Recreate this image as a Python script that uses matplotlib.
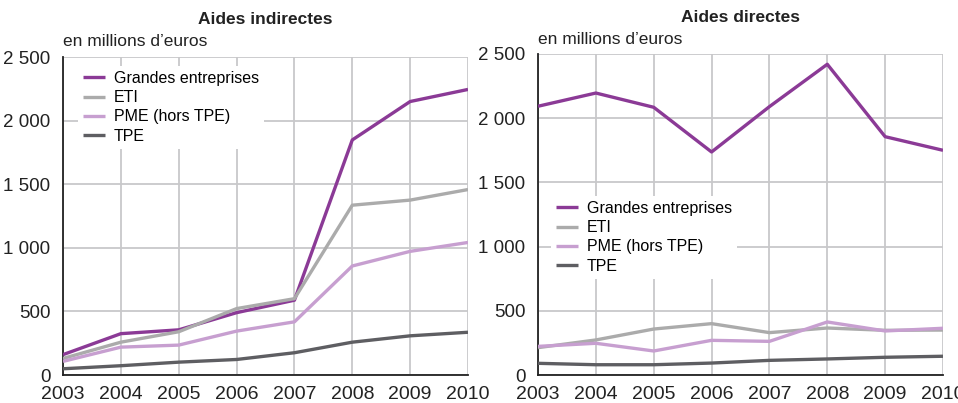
import matplotlib
matplotlib.use("Agg")
import matplotlib.pyplot as plt
from matplotlib.ticker import FuncFormatter

plt.rcParams['font.family'] = ['Liberation Sans Narrow', 'DejaVu Sans Condensed', 'Liberation Sans', 'DejaVu Sans']

years = [2003, 2004, 2005, 2006, 2007, 2008, 2009, 2010]
series_names = ["Grandes entreprises", "ETI", "PME (hors TPE)", "TPE"]

ind_ge = [160, 325, 355, 490, 588, 1848, 2150, 2245]
ind_eti = [130, 258, 340, 522, 600, 1335, 1375, 1458]
ind_pme = [107, 219, 235, 345, 418, 857, 972, 1042]
ind_tpe = [49, 73, 101, 122, 175, 258, 308, 336]

dir_ge = [2093, 2196, 2085, 1737, 2090, 2420, 1856, 1750]
dir_eti = [213, 273, 358, 400, 330, 366, 348, 350]
dir_pme = [223, 247, 187, 270, 262, 413, 343, 364]
dir_tpe = [91, 80, 80, 93, 114, 125, 138, 146]

colors = ["#8B3A96", "#ABABAB", "#C79FD0", "#5E5E62"]
yticks = [0, 500, 1000, 1500, 2000, 2500]

W, H = 958, 403
fig = plt.figure(figsize=(W/100, H/100), dpi=100)
ax1 = fig.add_axes([63/W, 1-375/H, 405/W, 318/H])
ax2 = fig.add_axes([538/W, 1-375/H, 405/W, 321/H])

fmt = FuncFormatter(lambda v, p: f"{int(v):,}".replace(",", " "))

def style(ax, data, title, title_y, sub_y, leg_xy):
    for vals, name, c in zip(data, series_names, colors):
        ax.plot(years, vals, color=c, lw=2.4, label=name, solid_capstyle='butt', zorder=3)
    ax.set_xlim(2003, 2010)
    ax.set_ylim(0, 2500)
    ax.set_xticks(years)
    ax.set_yticks(yticks)
    ax.yaxis.set_major_formatter(fmt)
    ax.grid(True, color="#C8C8CA", lw=1.3, zorder=0)
    ax.set_axisbelow(True)
    for s in ["top", "right"]:
        ax.spines[s].set_visible(False)
    for s in ["left", "bottom"]:
        ax.spines[s].set_color("#222222")
        ax.spines[s].set_linewidth(1.3)
    ax.tick_params(length=0, colors="#222222")
    ax.tick_params(axis='y', pad=9, labelsize=13.5)
    ax.tick_params(axis='x', pad=8, labelsize=14)
    leg = ax.legend(loc="upper left", bbox_to_anchor=leg_xy,
                    bbox_transform=fig.transFigure, frameon=True,
                    fontsize=11.5, handlelength=1.4, handletextpad=0.55,
                    labelspacing=0.27, borderpad=0.3, borderaxespad=0)
    leg.get_frame().set_edgecolor("none")
    leg.get_frame().set_facecolor("white")
    leg.get_frame().set_alpha(1)
    leg.set_zorder(5)
    bb = ax.get_position()
    fig.text((bb.x0 + bb.x1) / 2, title_y, title, ha="center", va="center",
             fontsize=12.5, fontweight="bold", color="#222222")
    fig.text(bb.x0, sub_y, "en millions d\u2019euros", ha="left",
             va="center", fontsize=12.5, color="#222222")

style(ax1, [ind_ge, ind_eti, ind_pme, ind_tpe], "Aides indirectes",
      1-20/H, 1-42/H, (78/W, 1-66/H))
style(ax2, [dir_ge, dir_eti, dir_pme, dir_tpe], "Aides directes",
      1-18/H, 1-40/H, (551/W, 1-196/H))

fig.savefig("out.png", dpi=100)
